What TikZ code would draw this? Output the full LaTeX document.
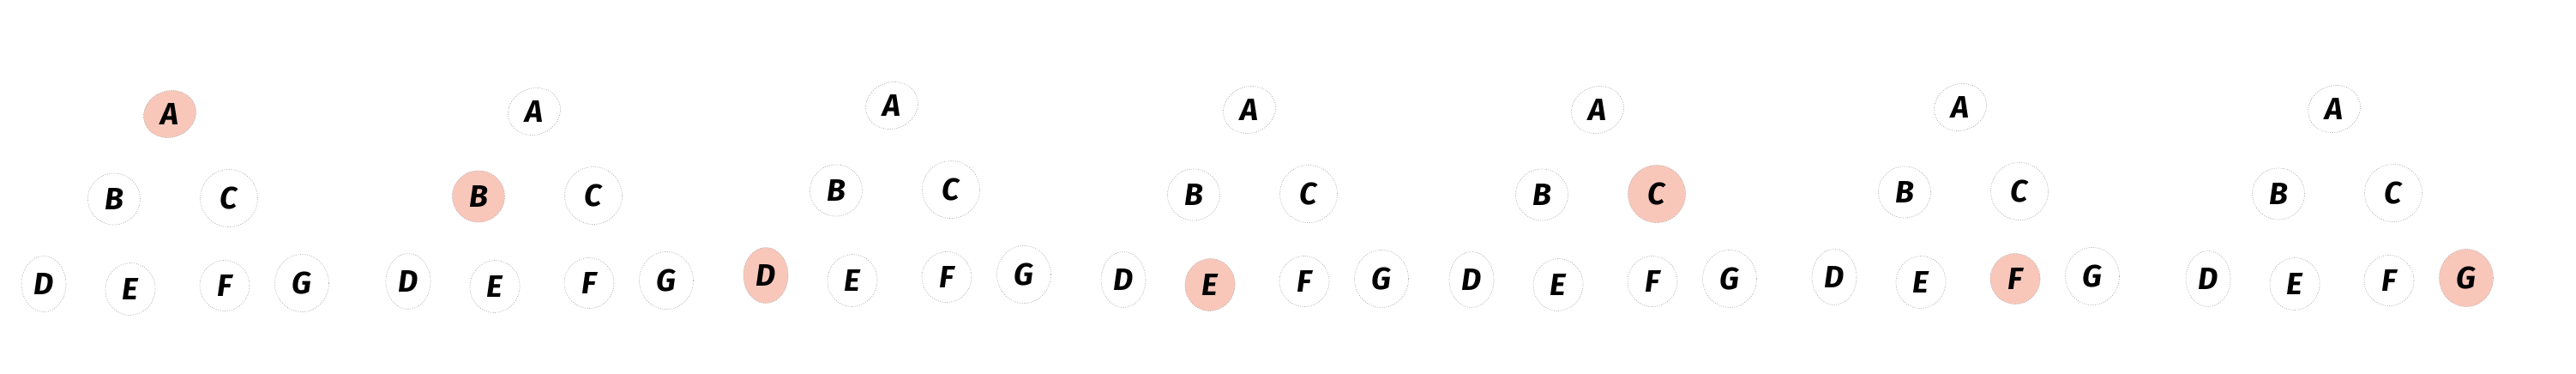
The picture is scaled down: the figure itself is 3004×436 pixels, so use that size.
\documentclass[tikz,border=0pt]{standalone}
\usepackage{fontspec}
\setmainfont{Fira Sans}
\usetikzlibrary{shapes.geometric}
\definecolor{hl}{HTML}{F8C7BA}
\definecolor{rim}{HTML}{B8ACAC}
\tikzset{
  bub/.style={ellipse, draw=rim, line width=0.7pt, dash pattern=on 1pt off 1.6pt,
    inner sep=0pt, font=\fontsize{36}{36}\selectfont\bfseries\itshape},
  hot/.style={fill=hl},
}
\begin{document}
\begin{tikzpicture}[x=1pt,y=-1pt]
\useasboundingbox[fill=white] (0,0) rectangle (3004,436);
% panel index / A-position / highlighted letter
\foreach \p/\ax/\ay/\hlt in {1/198/133/A, 2/623/130/B, 3/1040/123/D, 4/1457/128/E, 5/1863/128/C, 6/2286/125/F, 7/2722/127/G}{
  \foreach \lt/\dx/\dy/\ww/\hh/\rr/\rb in {A/0/0/62/54/20/-20, B/-65/99/61/60/0/0, C/69/98/67/67/0/0, D/-147/198/52/65/0/0, E/-46/204/58/61/-10/10, F/64/200/58/59/0/0, G/154/197/63/67/0/0}{
    \ifx\lt\hlt
      \node[bub, hot, minimum width=\ww pt, minimum height=\hh pt, rotate=\rr] (p\p\lt) at (\ax+\dx,\ay+\dy) {\rotatebox{\rb}{\lt}};
    \else
      \node[bub, minimum width=\ww pt, minimum height=\hh pt, rotate=\rr] (p\p\lt) at (\ax+\dx,\ay+\dy) {\rotatebox{\rb}{\lt}};
    \fi
  }
}
\end{tikzpicture}
\end{document}
